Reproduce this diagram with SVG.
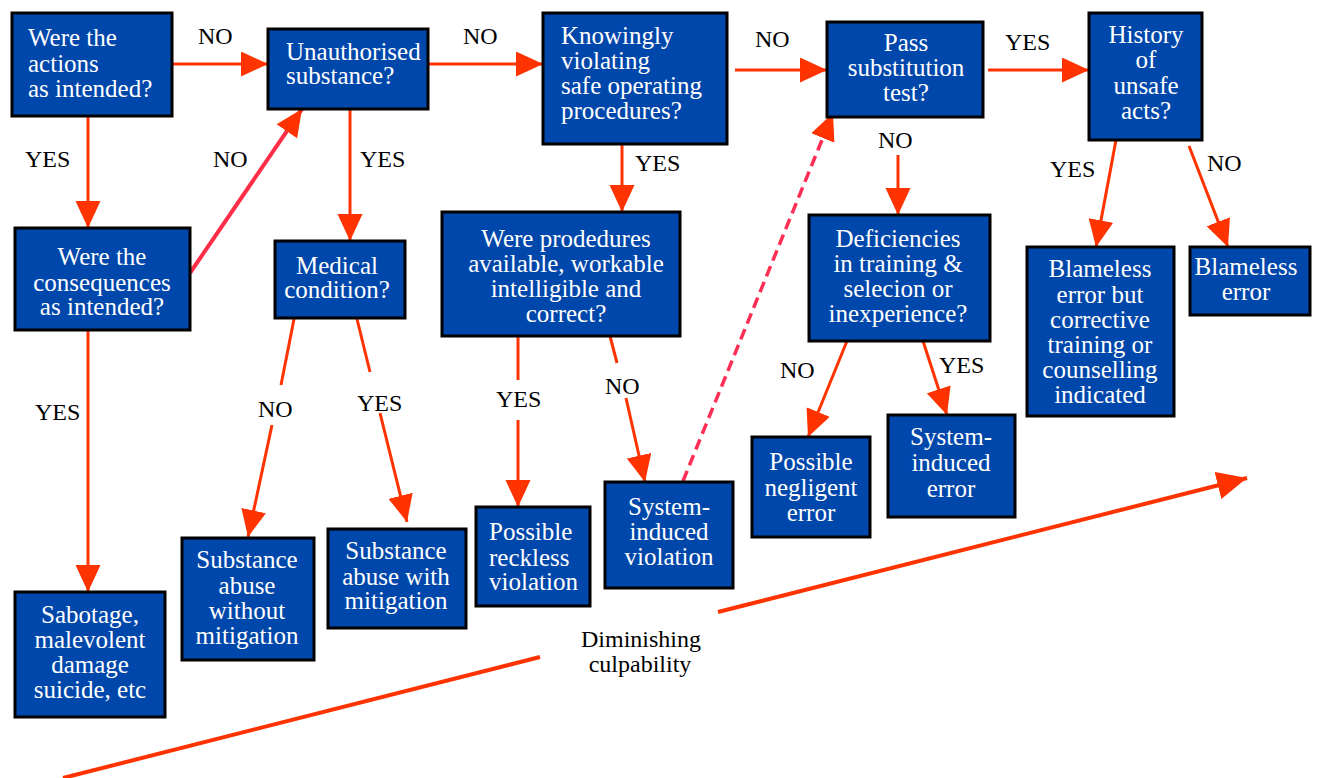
<svg xmlns="http://www.w3.org/2000/svg" width="1319" height="778" viewBox="0 0 1319 778">
  <style>
    .box rect { fill: #0047ab; stroke: #000; stroke-width: 3; }
    .box text { font-family: "Liberation Serif", Tinos, "Noto Serif", "DejaVu Serif", serif; font-size: 25px; fill: #fff; }
    .c { text-anchor: middle; }
    .lbl { font-family: "Liberation Serif", Tinos, "Noto Serif", "DejaVu Serif", serif; font-size: 24px; fill: #000; }
    .ln { fill: none; stroke: #ff3300; stroke-width: 3; }
    .pink { stroke: #ff2e48; stroke-width: 4; }
    .dash { stroke: #ff2e55; stroke-width: 3.5; stroke-dasharray: 11 6; }
    .trend { stroke-width: 4; }
  </style>
  <defs>
    <marker id="arr" markerUnits="userSpaceOnUse" markerWidth="28" markerHeight="26" refX="27" refY="12.5" orient="auto">
      <path d="M0,0 L27,12.5 L0,25 z" fill="#ff3300"/>
    </marker>
    <marker id="arrBig" markerUnits="userSpaceOnUse" markerWidth="32" markerHeight="30" refX="30" refY="14" orient="auto">
      <path d="M0,0 L30,14 L0,28 z" fill="#ff3300"/>
    </marker>
  </defs>

  <rect width="1319" height="778" fill="#fff"/>

  <!-- connectors -->
  <g id="connectors">
    <path class="ln" d="M172,64 L268,64" marker-end="url(#arr)"/>
    <path class="ln" d="M88,116 L88,228" marker-end="url(#arr)"/>
    <path class="ln pink" d="M190,273 L302,109" marker-end="url(#arr)"/>
    <path class="ln" d="M350,109 L350,241" marker-end="url(#arr)"/>
    <path class="ln" d="M428,64 L543,64" marker-end="url(#arr)"/>
    <path class="ln" d="M735,70 L827,70" marker-end="url(#arr)"/>
    <path class="ln" d="M622,144 L622,212" marker-end="url(#arr)"/>
    <path class="ln" d="M988,70 L1089,70" marker-end="url(#arr)"/>
    <path class="ln" d="M898,155 L898,215" marker-end="url(#arr)"/>
    <path class="ln" d="M1116,140 L1096,247" marker-end="url(#arr)"/>
    <path class="ln" d="M1189,146 L1228,247" marker-end="url(#arr)"/>
    <path class="ln" d="M88,330 L88,592" marker-end="url(#arr)"/>
    <path class="ln" d="M294,319 L281,385"/>
    <path class="ln" d="M272,425 L248,537" marker-end="url(#arr)"/>
    <path class="ln" d="M357,319 L370,372"/>
    <path class="ln" d="M380,413 L407,522" marker-end="url(#arr)"/>
    <path class="ln" d="M518,336 L518,380"/>
    <path class="ln" d="M518,420 L518,507" marker-end="url(#arr)"/>
    <path class="ln" d="M610,336 L617,363"/>
    <path class="ln" d="M626,398 L645,482" marker-end="url(#arr)"/>
    <path class="ln dash" d="M683,481 L833,113" marker-end="url(#arr)"/>
    <path class="ln" d="M847,341 L808,437" marker-end="url(#arr)"/>
    <path class="ln" d="M923,341 L947,415" marker-end="url(#arr)"/>
    <path class="ln trend" d="M63,778 L540,657"/>
    <path class="ln trend" d="M718,612 L1247,478" marker-end="url(#arrBig)"/>
  </g>

  <!-- branch labels -->
  <g id="labels" class="lbl">
    <text x="198" y="44">NO</text>
    <text x="25" y="167">YES</text>
    <text x="213" y="167">NO</text>
    <text x="360" y="167">YES</text>
    <text x="463" y="44">NO</text>
    <text x="755" y="47">NO</text>
    <text x="635" y="171">YES</text>
    <text x="1005" y="50">YES</text>
    <text x="878" y="148">NO</text>
    <text x="1050" y="177">YES</text>
    <text x="1207" y="171">NO</text>
    <text x="35" y="420">YES</text>
    <text x="258" y="417">NO</text>
    <text x="357" y="411">YES</text>
    <text x="496" y="407">YES</text>
    <text x="605" y="394">NO</text>
    <text x="780" y="378">NO</text>
    <text x="939" y="373">YES</text>
    <text x="641" y="647" text-anchor="middle">Diminishing</text>
    <text x="640" y="672" text-anchor="middle">culpability</text>
  </g>

  <!-- decision and outcome nodes -->
  <g id="actions-intended" class="box">
    <rect x="12" y="13" width="160" height="103"/>
    <text x="28" y="46">Were the</text>
    <text x="28" y="72">actions</text>
    <text x="28" y="97">as intended?</text>
  </g>
  <g id="unauthorised" class="box">
    <rect x="268" y="29" width="160" height="80"/>
    <text x="286" y="60">Unauthorised</text>
    <text x="286" y="84">substance?</text>
  </g>
  <g id="knowingly-violating" class="box">
    <rect x="543" y="13" width="184" height="131"/>
    <text x="561" y="44">Knowingly</text>
    <text x="561" y="69">violating</text>
    <text x="561" y="94">safe operating</text>
    <text x="561" y="119">procedures?</text>
  </g>
  <g id="substitution-test" class="box">
    <rect x="827" y="22" width="156" height="95"/>
    <text class="c" x="906" y="51">Pass</text>
    <text class="c" x="906" y="76">substitution</text>
    <text class="c" x="906" y="101">test?</text>
  </g>
  <g id="history" class="box">
    <rect x="1089" y="13" width="113" height="127"/>
    <text class="c" x="1146" y="43">History</text>
    <text class="c" x="1146" y="68">of</text>
    <text class="c" x="1146" y="94">unsafe</text>
    <text class="c" x="1146" y="119">acts?</text>
  </g>
  <g id="consequences-intended" class="box">
    <rect x="15" y="228" width="175" height="102"/>
    <text class="c" x="102" y="265">Were the</text>
    <text class="c" x="102" y="291">consequences</text>
    <text class="c" x="102" y="315">as intended?</text>
  </g>
  <g id="medical" class="box">
    <rect x="275" y="241" width="130" height="77"/>
    <text class="c" x="337" y="274">Medical</text>
    <text class="c" x="337" y="298">condition?</text>
  </g>
  <g id="procedures-available" class="box">
    <rect x="442" y="212" width="238" height="124"/>
    <text class="c" x="566" y="247">Were prodedures</text>
    <text class="c" x="566" y="272">available, workable</text>
    <text class="c" x="566" y="297">intelligible and</text>
    <text class="c" x="566" y="322">correct?</text>
  </g>
  <g id="deficiencies" class="box">
    <rect x="809" y="215" width="181" height="126"/>
    <text class="c" x="898" y="247">Deficiencies</text>
    <text class="c" x="898" y="272">in training &amp;</text>
    <text class="c" x="898" y="297">selecion or</text>
    <text class="c" x="898" y="322">inexperience?</text>
  </g>
  <g id="blameless-corrective" class="box">
    <rect x="1027" y="247" width="147" height="169"/>
    <text class="c" x="1100" y="277">Blameless</text>
    <text class="c" x="1100" y="303">error but</text>
    <text class="c" x="1100" y="328">corrective</text>
    <text class="c" x="1100" y="353">training or</text>
    <text class="c" x="1100" y="378">counselling</text>
    <text class="c" x="1100" y="403">indicated</text>
  </g>
  <g id="blameless-error" class="box">
    <rect x="1190" y="247" width="120" height="68"/>
    <text class="c" x="1246" y="275">Blameless</text>
    <text class="c" x="1246" y="300">error</text>
  </g>
  <g id="sabotage" class="box">
    <rect x="15" y="592" width="150" height="125"/>
    <text class="c" x="90" y="623">Sabotage,</text>
    <text class="c" x="90" y="648">malevolent</text>
    <text class="c" x="90" y="673">damage</text>
    <text class="c" x="90" y="698">suicide, etc</text>
  </g>
  <g id="abuse-without" class="box">
    <rect x="182" y="538" width="132" height="122"/>
    <text class="c" x="247" y="568">Substance</text>
    <text class="c" x="247" y="594">abuse</text>
    <text class="c" x="247" y="619">without</text>
    <text class="c" x="247" y="644">mitigation</text>
  </g>
  <g id="abuse-with" class="box">
    <rect x="328" y="529" width="138" height="99"/>
    <text class="c" x="396" y="559">Substance</text>
    <text class="c" x="396" y="585">abuse with</text>
    <text class="c" x="396" y="609">mitigation</text>
  </g>
  <g id="reckless" class="box">
    <rect x="476" y="507" width="114" height="99"/>
    <text x="489" y="540">Possible</text>
    <text x="489" y="566">reckless</text>
    <text x="489" y="590">violation</text>
  </g>
  <g id="system-violation" class="box">
    <rect x="605" y="482" width="128" height="106"/>
    <text class="c" x="669" y="515">System-</text>
    <text class="c" x="669" y="540">induced</text>
    <text class="c" x="669" y="565">violation</text>
  </g>
  <g id="negligent" class="box">
    <rect x="752" y="437" width="118" height="100"/>
    <text class="c" x="811" y="470">Possible</text>
    <text class="c" x="811" y="496">negligent</text>
    <text class="c" x="811" y="521">error</text>
  </g>
  <g id="system-error" class="box">
    <rect x="888" y="415" width="127" height="102"/>
    <text class="c" x="951" y="445">System-</text>
    <text class="c" x="951" y="471">induced</text>
    <text class="c" x="951" y="497">error</text>
  </g>
</svg>
